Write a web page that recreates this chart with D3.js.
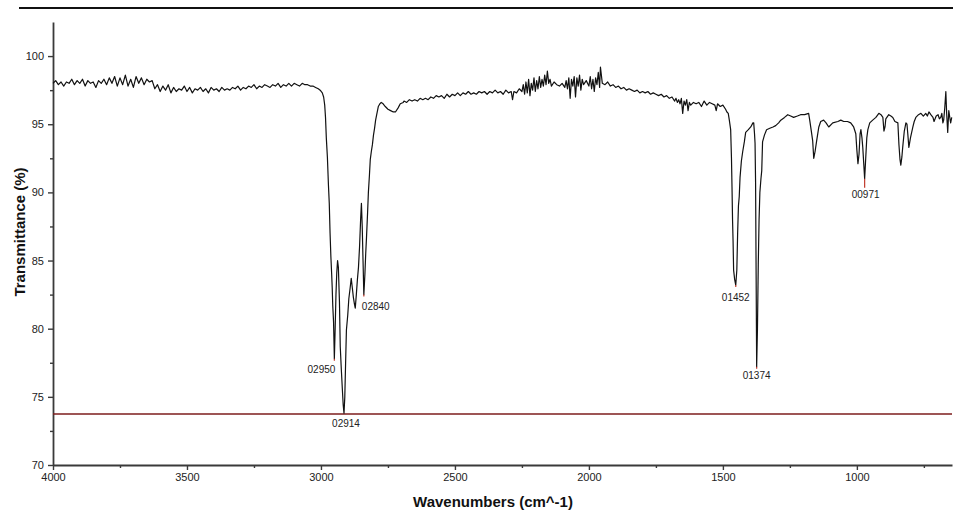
<!DOCTYPE html>
<html>
<head>
<meta charset="utf-8">
<script src="https://cdn.jsdelivr.net/npm/d3@7"></script>
<style>
  body { margin: 0; background: #fff; }
  text { font-family: "Liberation Sans", Arial, sans-serif; }
</style>
</head>
<body>
<svg width="953" height="512"></svg>
<script>
// spectrum, [wavenumber, transmittance]
var highRange = [
  [4000,98.0],[3990,98.2],[3980,97.9],[3970,98.1],[3960,97.8],[3950,98.1],[3940,98.0],[3930,98.3],[3920,97.9],[3910,98.2],
  [3900,98.0],[3890,98.3],[3880,97.8],[3870,98.2],[3860,98.0],[3850,98.1],[3840,97.7],[3830,98.2],[3820,98.0],[3810,98.3],
  [3800,97.9],[3790,98.4],[3780,98.0],[3770,98.5],[3760,97.8],[3750,98.4],[3740,97.9],[3730,98.6],[3720,97.8],[3710,98.3],
  [3700,97.7],[3690,98.5],[3680,98.0],[3670,98.4],[3660,97.9],[3650,98.3],[3640,98.1],[3630,98.2],[3620,97.6],[3610,97.9],
  [3600,97.4],[3590,97.8],[3580,97.5],[3570,97.9],[3560,97.3],[3550,97.7],[3540,97.4],[3530,97.6],[3520,97.5],[3510,97.8],
  [3500,97.4],[3490,97.7],[3480,97.3],[3470,97.6],[3460,97.5],[3450,97.7],[3440,97.4],[3430,97.6],[3420,97.3],[3410,97.7],
  [3400,97.5],[3390,97.6],[3380,97.4],[3370,97.7],[3360,97.5],[3350,97.6],[3340,97.5],[3330,97.7],[3320,97.6],[3310,97.8],
  [3300,97.5],[3290,97.7],[3280,97.6],[3270,97.8],[3260,97.7],[3250,97.9],[3240,97.6],[3230,97.8],[3220,97.7],[3210,97.9],
  [3200,97.8],[3190,97.7],[3180,97.9],[3170,97.8],[3160,98.0],[3150,97.7],[3140,97.9],[3130,97.8],[3120,98.0],[3110,97.8],
  [3100,98.0],[3090,97.9],[3080,97.8],[3070,98.0],[3060,97.9],[3050,97.9],[3040,97.8],[3030,97.8],[3020,97.7],[3010,97.6],
  [3003,97.5]
];

var chBand = [
  [2995,97.3],[2990,97.0],[2986,96.4],[2983,95.5],[2980,94.0],[2976,92.6],[2972,90.5],[2969,89.2],[2966,87.0],[2963,85.3],
  [2960,84.0],[2958,83.0],[2956,81.7],[2953,80.5],[2950,77.8],[2947,80.0],[2944,82.5],[2941,84.1],[2938,85.0],[2935,84.5],
  [2931,82.0],[2928,78.7],[2924,77.0],[2920,75.5],[2917,74.4],[2914,73.8],[2911,75.0],[2908,77.5],[2905,79.9],[2900,81.0],
  [2896,82.2],[2891,83.0],[2887,83.7],[2883,83.0],[2879,82.3],[2875,81.8],[2872,81.5],[2868,82.5],[2864,83.6],[2860,84.5],
  [2856,86.0],[2852,88.0],[2849,89.2],[2846,87.5],[2843,85.0],[2840,82.5],[2836,84.0],[2833,85.5],[2830,86.7],[2826,88.5],
  [2823,90.0],[2819,91.3],[2816,92.4],[2812,93.0],[2808,93.5],[2804,94.2],[2800,94.7],[2796,95.3],[2792,95.7],[2786,96.3],
  [2780,96.5],[2775,96.6],[2768,96.5],[2760,96.3],[2750,96.1],[2740,96.0],[2730,95.9],[2722,95.9],[2712,96.2],[2704,96.5],
  [2693,96.6]
];

var midRange = [
  [2690,96.7],[2680,96.6],[2670,96.8],[2660,96.7],[2650,96.8],[2640,96.7],[2630,96.9],[2620,96.8],[2610,96.9],[2600,96.8],
  [2590,97.0],[2580,96.9],[2570,97.1],[2560,97.0],[2550,97.1],[2540,96.9],[2530,97.2],[2520,97.0],[2510,97.2],[2500,97.1],
  [2490,97.3],[2480,97.1],[2470,97.3],[2460,97.2],[2450,97.4],[2440,97.2],[2430,97.3],[2420,97.2],[2410,97.4],[2400,97.3],
  [2390,97.4],[2380,97.2],[2370,97.4],[2360,97.3],[2350,97.5],[2340,97.3],[2330,97.4],[2320,97.2],[2310,97.5],[2300,97.3],
  [2290,97.4],[2285,96.8],[2280,97.4],[2270,97.3],[2260,97.6],[2250,97.4],[2245,97.9],[2240,97.2],[2235,98.1],[2230,97.3],
  [2225,98.3],[2220,97.1],[2215,98.0],[2210,97.5],[2205,98.4],[2200,97.4],[2195,98.2],[2190,97.6],[2185,98.5],[2180,97.7],
  [2175,98.3],[2170,97.8],[2165,98.6],[2160,97.9],[2155,98.9],[2150,98.0],[2145,98.3],[2140,97.8],[2130,98.1],[2120,97.9],
  [2110,97.8],[2100,98.0],[2090,97.7],[2085,98.2],[2080,97.6],[2075,98.4],[2070,96.9],[2065,98.3],[2060,97.8],[2055,98.5],
  [2050,97.0],[2045,98.4],[2040,97.8],[2035,98.6],[2030,97.5],[2025,98.3],[2020,97.9],[2010,98.2],[2000,97.8],[1995,98.5],
  [1990,97.6],[1985,98.3],[1980,97.4],[1975,98.4],[1970,97.9],[1965,98.8],[1960,97.7],[1957,99.2],[1950,98.0],[1940,97.9],
  [1930,98.1],[1920,97.8],[1910,97.9],[1900,97.7],[1890,97.8],[1880,97.6],[1870,97.7],[1860,97.5],[1850,97.6],[1840,97.5],
  [1830,97.4],[1820,97.5],[1810,97.3],[1800,97.4],[1790,97.3],[1780,97.4],[1770,97.2],[1760,97.3],[1750,97.2],[1740,97.1],
  [1730,97.2],[1720,97.0],[1710,97.1],[1700,96.9],[1690,97.0],[1680,96.7],[1675,96.9],[1670,96.6],[1665,96.8],[1660,96.5],
  [1655,96.9],[1650,95.8],[1645,96.7],[1640,96.4],[1635,96.8],[1630,96.0],[1625,96.6],[1620,96.4],[1610,96.6],[1600,96.5],
  [1590,96.6],[1580,96.3],[1570,96.7],[1560,96.4],[1550,96.6],[1540,96.5],[1530,96.4],[1525,96.0],[1520,96.5],[1510,96.3],
  [1500,96.4],[1490,96.1],[1485,95.9]
];

var fingerprint = [
  [1480,95.8],[1476,95.3],[1471,94.6],[1468,92.5],[1466,90.4],[1464,88.0],[1462,86.4],[1460,84.3],[1456,83.6],[1452,83.2],
  [1448,84.3],[1445,87.0],[1442,89.0],[1439,89.7],[1436,91.1],[1431,92.3],[1426,93.0],[1420,93.7],[1415,94.4],[1405,94.6],
  [1396,94.8],[1388,95.1],[1385,95.1],[1382,94.3],[1380,93.6],[1378,90.7],[1376,84.0],[1374,77.2],[1371,80.0],[1368,84.7],
  [1365,88.0],[1362,90.0],[1358,91.0],[1355,91.6],[1352,93.7],[1345,94.2],[1337,94.6],[1325,94.7],[1313,94.8],[1303,94.9],
  [1292,95.1],[1284,95.3],[1270,95.5],[1258,95.7],[1247,95.6],[1236,95.5],[1222,95.6],[1210,95.7],[1195,95.7],[1180,95.8],
  [1176,95.3],[1170,94.5],[1165,93.8],[1161,92.5],[1156,93.0],[1150,93.8],[1142,94.8],[1135,95.2],[1124,95.3],[1115,95.1],
  [1105,94.8],[1090,95.1],[1071,95.2],[1060,95.3],[1049,95.2],[1035,95.2],[1023,95.1],[1012,94.8],[1004,94.3],[1000,93.1],
  [996,92.1],[992,92.8],[988,94.3],[985,94.6],[981,94.0],[978,93.3],[974,92.0],[971,91.0],[967,92.5],[963,94.0],
  [959,94.6],[952,95.1],[941,95.3],[929,95.5],[918,95.8],[910,95.7],[903,95.5],[899,94.5],[895,94.8],[892,95.4],
  [881,95.7],[873,95.6],[866,95.5],[858,95.2],[847,95.1],[843,93.5],[839,92.4],[836,92.0],[832,92.6],[829,93.3],
  [823,94.5],[817,95.1],[813,95.0],[810,94.3],[806,93.3],[800,94.0],[791,94.8],[786,95.2],[780,95.5],[770,95.7],
  [761,95.8],[752,95.6],[743,95.8],[737,95.6],[731,95.9],[724,95.7],[716,95.5],[712,95.2],[704,95.6],[697,95.7],
  [692,95.4],[687,95.5],[683,95.8],[679,95.1],[676,95.3],[672,96.2],[668,97.4],[665,95.8],[661,94.4],[659,95.2],
  [657,96.0],[654,95.6],[650,95.1],[646,95.5]
];

// picked peaks
var peakWn = [2950, 2914, 2840, 1452, 1374, 971];
var peakT = [77.8, 73.8, 82.5, 83.2, 77.2, 91.0];
var peakLabels = ["02950", "02914", "02840", "01452", "01374", "00971"];

// threshold line
var thresholdT = 73.74;

// axis ticks
var xMajor = [4000, 3500, 3000, 2500, 2000, 1500, 1000];
var xMinor = [3750, 3250, 2750, 2250, 1750, 1250, 750];
var yMajor = [70, 75, 80, 85, 90, 95, 100];
var yMinor = [72.5, 77.5, 82.5, 87.5, 92.5, 97.5];

var spectrum = highRange.concat(chBand, midRange, fingerprint);

var svg = d3.select("svg");

var x = d3.scaleLinear().domain([4000, 645]).range([53, 952]);
var y = d3.scaleLinear().domain([70, 102.5]).range([465, 22]);

var axisColour = "#3a3a3a";

// rule across the top
svg.append("line")
    .attr("x1", 19).attr("x2", 953)
    .attr("y1", 8).attr("y2", 8)
    .attr("stroke", "#111")
    .attr("stroke-width", 2);

// axes
svg.append("g")
    .attr("transform", "translate(0," + y(70) + ")")
    .call(d3.axisBottom(x).tickValues(xMajor).tickFormat(d3.format("d"))
        .tickSize(5).tickSizeOuter(0).tickPadding(3));
svg.append("g")
    .attr("transform", "translate(0," + y(70) + ")")
    .call(d3.axisBottom(x).tickValues(xMinor).tickSize(3).tickFormat(""))
    .select(".domain").remove();

svg.append("g")
    .attr("transform", "translate(" + x(4000) + ",0)")
    .call(d3.axisLeft(y).tickValues(yMajor).tickFormat(d3.format("d"))
        .tickSize(5).tickSizeOuter(0).tickPadding(4));
svg.append("g")
    .attr("transform", "translate(" + x(4000) + ",0)")
    .call(d3.axisLeft(y).tickValues(yMinor).tickSize(3).tickFormat(""))
    .select(".domain").remove();

svg.selectAll(".domain").attr("stroke", axisColour).attr("stroke-width", 1.8);
svg.selectAll(".tick line").attr("stroke", axisColour).attr("stroke-width", 1.4);
svg.selectAll(".tick text")
    .attr("fill", "#222")
    .style("font-size", "11px");

// axis titles
svg.append("text")
    .attr("x", 493).attr("y", 507)
    .attr("text-anchor", "middle")
    .style("font-size", "15px")
    .style("font-weight", "bold")
    .attr("fill", "#111")
    .text("Wavenumbers (cm^-1)");

svg.append("text")
    .attr("transform", "translate(25,232) rotate(-90)")
    .attr("text-anchor", "middle")
    .style("font-size", "15px")
    .style("font-weight", "bold")
    .attr("fill", "#111")
    .text("Transmittance (%)");

// threshold
svg.append("line")
    .attr("x1", x(4000)).attr("x2", x(645))
    .attr("y1", y(thresholdT)).attr("y2", y(thresholdT))
    .attr("stroke", "#7d1d1d")
    .attr("stroke-width", 1.5);

// spectrum
var line = d3.line()
    .x(d => x(d[0]))
    .y(d => y(d[1]));

svg.append("path")
    .datum(spectrum)
    .attr("fill", "none")
    .attr("stroke", "#111")
    .attr("stroke-width", 1.2)
    .attr("stroke-linejoin", "round")
    .attr("d", line);

// peak markers and labels
var placement = [
    {anchor: "end", dx: 1, dy: 14, tick: 2},
    {anchor: "middle", dx: 2, dy: 14, tick: 0},
    {anchor: "start", dx: -2, dy: 15, tick: 2},
    {anchor: "middle", dx: 0, dy: 16, tick: 2},
    {anchor: "middle", dx: 0, dy: 12, tick: 2},
    {anchor: "middle", dx: 1, dy: 19, tick: 9}
];

var peaks = peakWn.map((w, i) => ({w: w, t: peakT[i], label: peakLabels[i], p: placement[i]}));

var pg = svg.append("g");
pg.selectAll("line")
    .data(peaks)
    .enter().append("line")
    .attr("x1", d => x(d.w)).attr("x2", d => x(d.w))
    .attr("y1", d => y(d.t)).attr("y2", d => y(d.t) + d.p.tick)
    .attr("stroke", "#c0392b")
    .attr("stroke-width", 1.2);

pg.selectAll("text")
    .data(peaks)
    .enter().append("text")
    .attr("x", d => x(d.w) + d.p.dx)
    .attr("y", d => y(d.t) + d.p.dy)
    .attr("text-anchor", d => d.p.anchor)
    .style("font-size", "10px")
    .attr("fill", "#222")
    .text(d => d.label);
</script>
</body>
</html>
